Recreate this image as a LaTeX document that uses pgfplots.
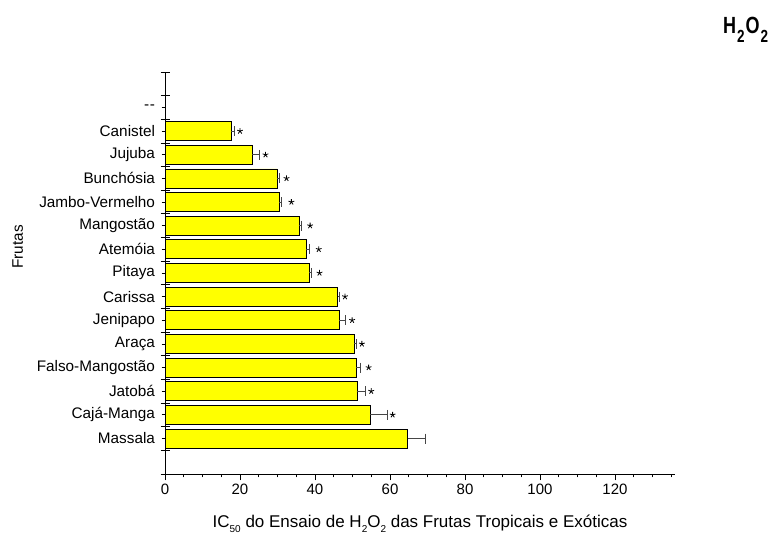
\documentclass[border=0pt]{standalone}
\usepackage{fontspec}
\setmainfont{Liberation Sans}
\usepackage{pgfplots}
\pgfplotsset{compat=1.18}
\definecolor{barY}{RGB}{255,255,0}
\definecolor{errG}{RGB}{70,70,70}
\begin{document}
\begin{tikzpicture}[x=1pt,y=1pt]
\useasboundingbox (0,0) rectangle (779,535);
\begin{axis}[
  at={(165pt,61pt)}, anchor=south west,
  scale only axis, width=510pt, height=402pt,
  xmin=0, xmax=136, ymin=-0.5, ymax=16.5,
  axis lines=left, axis line style={-, line width=0.8pt},
  xtick={0,5,...,135},
  xticklabels={0,,,,20,,,,40,,,,60,,,,80,,,,100,,,,120,,,,},
  extra x ticks={0,20,...,120},
  extra x tick labels={},
  extra x tick style={major tick length=6.5pt, tick align=outside},
  tick style={line width=0.8pt, black},
  tick align=outside, major tick length=3.5pt,
  ytick={1,...,15},
  yticklabels={Massala,Cajá-Manga,Jatobá,Falso-Mangostão,Araça,Jenipapo,Carissa,Pitaya,Atemóia,Mangostão,Jambo-Vermelho,Bunchósia,Jujuba,Canistel,{-\kern0.6pt-}},
  extra y ticks={-0.5,0.5,...,16.5},
  extra y tick labels={},
  extra y tick style={tick align=center, major tick length=9pt},
  yticklabel style={font=\fontsize{15.3}{17}\selectfont, xshift=-3pt},
  xticklabel style={font=\fontsize{15}{17}\selectfont, yshift=-3pt},
  /pgf/number format/assume math mode=true,
  clip=false,
]
\addplot[xbar, bar width=19pt, fill=barY, draw=black, line width=0.7pt,
  error bars/.cd, x dir=plus, x explicit,
  error bar style={errG, line width=1pt},
  error mark options={rotate=90, errG, line width=1pt, mark size=5pt}]
coordinates {
(64.7,1) +- (4.8,0)
(54.7,2) +- (4.6,0)
(51.3,3) +- (2.1,0)
(51.0,4) +- (1.2,0)
(50.5,5) +- (0.5,0)
(46.5,6) +- (1.7,0)
(46.0,7) +- (0.4,0)
(38.5,8) +- (0.6,0)
(37.7,9) +- (0.9,0)
(35.7,10) +- (0.6,0)
(30.5,11) +- (0.6,0)
(29.9,12) +- (0.5,0)
(23.2,13) +- (2.1,0)
(17.6,14) +- (0.8,0)
};
\addplot[only marks, mark=star, mark size=3pt, black, line width=0.8pt]
coordinates {
(60.7,2) (55.0,3) (54.3,4) (52.5,5) (49.9,6) (48.0,7) (41.2,8)
(41.0,9) (38.7,10) (33.7,11) (32.4,12) (26.8,13) (20.0,14)
};
\end{axis}
\node[anchor=base, font=\fontsize{17}{19}\selectfont] at (420,7)
  {IC\raisebox{-0.55ex}{\fontsize{10}{11}\selectfont 50} do Ensaio de H\raisebox{-0.55ex}{\fontsize{10}{11}\selectfont 2}O\raisebox{-0.55ex}{\fontsize{10}{11}\selectfont 2} das Frutas Tropicais e Exóticas};
\node[rotate=90, anchor=base, font=\fontsize{15.3}{17}\selectfont] at (23,288) {Frutas};
\node[anchor=base west, inner sep=0pt, font=\bfseries\fontsize{18}{20}\selectfont] at (723,501)
  {\scalebox{1}[1.3]{H\kern1pt\raisebox{-6.5pt}{\fontsize{13.5}{14}\selectfont 2}\kern1pt O\kern1pt\raisebox{-6.5pt}{\fontsize{13.5}{14}\selectfont 2}}};
\end{tikzpicture}
\end{document}
